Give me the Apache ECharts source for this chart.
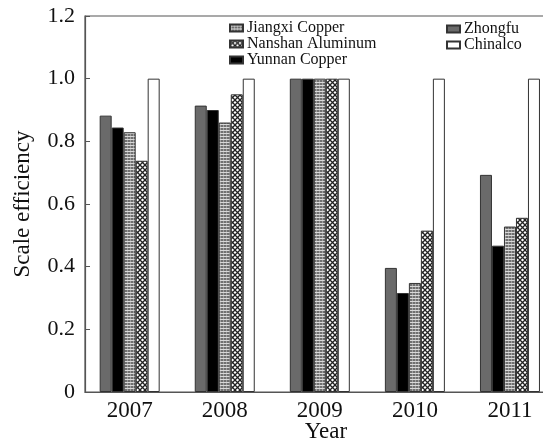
<!DOCTYPE html>
<html>
<head>
<meta charset="utf-8">
<script src="https://cdn.jsdelivr.net/npm/echarts@6/dist/echarts.min.js"></script>
<style>html,body{margin:0;padding:0;background:#fff;}#c{width:543px;height:441px;}</style>
</head>
<body>
<div id="c"></div>
<script>
const years = [2007, 2008, 2009, 2010, 2011];
const zhongfu = [0.882, 0.914, 1.0, 0.396, 0.693];
const yunnanCopper = [0.844, 0.900, 1.0, 0.316, 0.467];
const jiangxiCopper = [0.829, 0.860, 1.0, 0.348, 0.528];
const nanshanAluminum = [0.738, 0.950, 1.0, 0.515, 0.556];
const chinalco = [1.0, 1.0, 1.0, 1.0, 1.0];
const yTicks = [0, 0.2, 0.4, 0.6, 0.8, 1.0, 1.2];

function gridPattern() {
  const c = document.createElement('canvas');
  c.width = 3; c.height = 3;
  const g = c.getContext('2d');
  g.fillStyle = '#707070'; g.fillRect(0, 0, 3, 3);
  g.fillStyle = '#d8d8d8'; g.fillRect(0, 1, 3, 1);
  g.fillStyle = '#a0a0a0'; g.fillRect(1, 0, 1, 1); g.fillRect(1, 2, 1, 1);
  return c;
}
function crossPattern() {
  const c = document.createElement('canvas');
  c.width = 5; c.height = 5;
  const g = c.getContext('2d');
  g.fillStyle = '#fff'; g.fillRect(0, 0, 5, 5);
  g.strokeStyle = '#222'; g.lineWidth = 1.3;
  g.beginPath();
  g.moveTo(0, 0); g.lineTo(5, 5);
  g.moveTo(5, 0); g.lineTo(0, 5);
  g.stroke();
  return c;
}

const font = 'Liberation Serif';
const chart = echarts.init(document.getElementById('c'));
const border = { borderColor: '#333', borderWidth: 1 };
function bar(name, vals, fill) {
  return {
    name, type: 'bar', data: years.map((y, i) => [y, vals[i]]), barWidth: 12, barGap: '0%',
    itemStyle: Object.assign({ color: fill }, border),
    emphasis: { disabled: true }
  };
}
const legendText = { fontFamily: font, fontSize: 16, color: '#111', padding: [0, 0, 0, -1] };
chart.setOption({
  animation: false,
  backgroundColor: '#fff',
  grid: {
    left: 85, right: -24, top: 16, bottom: 49,
    outerBoundsMode: 'none', containLabel: false,
    show: true, borderColor: '#555', borderWidth: 1.2
  },
  legend: [
    {
      data: ['Jiangxi Copper', 'Nanshan Aluminum', 'Yunnan Copper'],
      orient: 'vertical', left: 224, top: 15, itemWidth: 13, itemHeight: 7, itemGap: 0,
      icon: 'rect', textStyle: legendText
    },
    {
      data: ['Zhongfu', 'Chinalco'],
      orient: 'vertical', left: 441, top: 16, itemWidth: 13, itemHeight: 7, itemGap: 0,
      icon: 'rect', textStyle: legendText
    }
  ],
  xAxis: {
    type: 'value', min: 2006.53, max: 2011.6,
    name: 'Year', nameLocation: 'middle', nameGap: 28, nameMoveOverlap: false,
    nameTextStyle: { fontFamily: font, fontSize: 23, color: '#111' },
    axisLine: { lineStyle: { color: '#555', width: 1.2 } },
    axisTick: { show: false },
    splitLine: { show: false },
    axisLabel: {
      fontFamily: font, fontSize: 23, color: '#111', margin: 7,
      customValues: years, formatter: v => String(v)
    }
  },
  yAxis: {
    type: 'value', min: 0, max: 1.2, interval: 0.2,
    name: 'Scale efficiency', nameLocation: 'middle', nameGap: 51, nameMoveOverlap: false,
    nameTextStyle: { fontFamily: font, fontSize: 23, color: '#111' },
    axisLine: { show: true, lineStyle: { color: '#555', width: 1.2 } },
    axisTick: { show: true, inside: true, length: 5, lineStyle: { color: '#555' } },
    splitLine: { show: false },
    axisLabel: {
      fontFamily: font, fontSize: 22, color: '#111', margin: 10,
      formatter: v => {
        const t = yTicks.find(x => Math.abs(x - v) < 1e-9);
        return t === 0 ? '0' : (t !== undefined ? t.toFixed(1) : '');
      }
    }
  },
  series: [
    bar('Zhongfu', zhongfu, '#6a6a6a'),
    bar('Yunnan Copper', yunnanCopper, '#000'),
    bar('Jiangxi Copper', jiangxiCopper, { image: gridPattern(), repeat: 'repeat' }),
    bar('Nanshan Aluminum', nanshanAluminum, { image: crossPattern(), repeat: 'repeat' }),
    bar('Chinalco', chinalco, '#fff')
  ]
});
</script>
</body>
</html>
